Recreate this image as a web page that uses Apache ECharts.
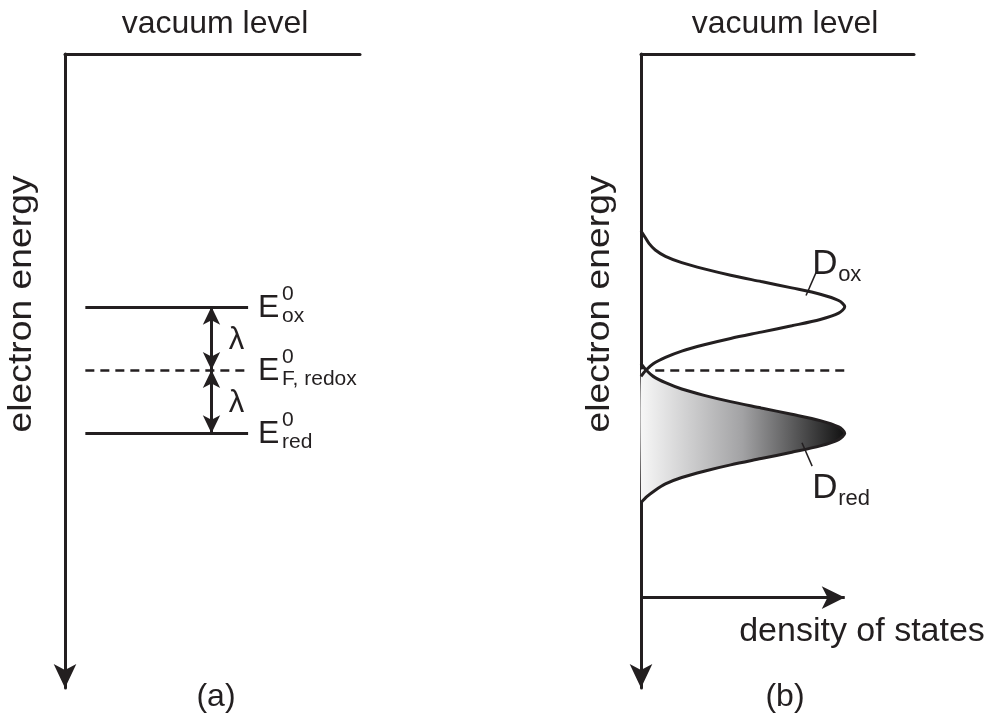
<!DOCTYPE html>
<html>
<head>
<meta charset="utf-8">
<script src="https://cdn.jsdelivr.net/npm/echarts@6/dist/echarts.min.js"></script>
<style>
html,body{margin:0;padding:0;background:#fff;}
#chart{width:986px;height:720px;}
</style>
</head>
<body>
<div id="chart"></div>
<script>
// ---------- data ----------
const levelEnergies = [4, 5, 6];                 // E0_ox, E0_F,redox, E0_red (electron energy, arbitrary units, downward)
const levelSubscripts = ['ox', 'F, redox', 'red'];
const levelDashed = [false, true, false];
const lambdaLabels = ['λ', 'λ'];

const doxEnergy  = [2.80, 2.90, 3.00, 3.10, 3.20, 3.30, 3.40, 3.50, 3.60, 3.70, 3.80, 3.90, 4.00, 4.10, 4.20, 4.30, 4.40, 4.50, 4.60, 4.70, 4.80, 4.90, 5.00, 5.10];
const doxDensity = [0.00, 0.02, 0.04, 0.07, 0.12, 0.20, 0.31, 0.44, 0.59, 0.74, 0.88, 0.97, 1.00, 0.97, 0.88, 0.74, 0.59, 0.44, 0.31, 0.20, 0.12, 0.06, 0.025, 0.00];

const dredEnergy  = [4.90, 5.00, 5.10, 5.20, 5.30, 5.40, 5.50, 5.60, 5.70, 5.80, 5.90, 6.00, 6.10, 6.20, 6.30, 6.40, 6.50, 6.60, 6.70, 6.80, 6.90, 7.00, 7.10];
const dredDensity = [0.00, 0.025, 0.06, 0.12, 0.20, 0.31, 0.44, 0.59, 0.74, 0.88, 0.97, 1.00, 0.97, 0.88, 0.74, 0.59, 0.44, 0.31, 0.20, 0.12, 0.07, 0.03, 0.00];

const texts = {
  vacuum: 'vacuum level',
  energy: 'electron energy',
  dos: 'density of states',
  panelA: '(a)',
  panelB: '(b)'
};

// ---------- style ----------
const INK = '#231f20';
const FONT = 'Liberation Sans, Arial, Helvetica, sans-serif';
const yMax = 10.03;

const chart = echarts.init(document.getElementById('chart'), null, {renderer: 'canvas'});

function yAxisCfg(gi) {
  return {
    gridIndex: gi, type: 'value', inverse: true, min: 0, max: yMax,
    axisLine: {show: true, onZero: false, lineStyle: {color: INK, width: 3}, symbol: ['arrow', 'none'], symbolSize: [17, 24]},
    axisTick: {show: false}, axisLabel: {show: false}, splitLine: {show: false}
  };
}
function xAxisCfg(gi, max) {
  return {
    gridIndex: gi, type: 'value', position: 'top', min: 0, max: max,
    axisLine: {show: true, onZero: false, lineStyle: {color: INK, width: 3}},
    axisTick: {show: false}, axisLabel: {show: false}, splitLine: {show: false}
  };
}

const xA = 0.72; // x position of lambda arrows (panel a)
const levelLines = levelEnergies.map((e, i) => [
  {coord: [0.10, e], lineStyle: {type: levelDashed[i] ? [9, 6] : 'solid', width: levelDashed[i] ? 2.5 : 3}},
  {coord: [0.90, e]}
]);
const lambdaArrows = [];
for (let i = 0; i < levelEnergies.length - 1; i++) {
  lambdaArrows.push([{coord: [xA, levelEnergies[i]]}, {coord: [xA, levelEnergies[i + 1]]}]);
}

const labelItems = levelEnergies.map((e, i) => [0.90, e, i]);
const lambdaItems = lambdaArrows.map((a, i) => [xA, (levelEnergies[i] + levelEnergies[i + 1]) / 2, i]);

const dredFillPts = dredEnergy.map((e, i) => [dredDensity[i], e]).filter(p => p[1] >= 5.0);

const option = {
  animation: false,
  backgroundColor: '#ffffff',
  grid: [
    {left: 65, top: 54, width: 295, height: 634},
    {left: 641, top: 54, width: 273, height: 634}
  ],
  xAxis: [xAxisCfg(0, 1.45), xAxisCfg(1, 1.34)],
  yAxis: [yAxisCfg(0), yAxisCfg(1)],
  series: [
    // panel (a): energy levels and lambda arrows
    {
      type: 'line', xAxisIndex: 0, yAxisIndex: 0, data: [], silent: true,
      markLine: {
        silent: true, symbol: ['none', 'none'], label: {show: false},
        lineStyle: {color: INK, width: 3, type: 'solid'},
        emphasis: {disabled: true},
        data: levelLines
      }
    },
    {
      type: 'line', xAxisIndex: 0, yAxisIndex: 0, data: [], silent: true,
      markLine: {
        silent: true, symbol: ['arrow', 'arrow'], symbolSize: [13, 18], label: {show: false},
        lineStyle: {color: INK, width: 3, type: 'solid'},
        emphasis: {disabled: true},
        data: lambdaArrows
      }
    },
    {
      type: 'custom', xAxisIndex: 0, yAxisIndex: 0, silent: true,
      data: labelItems,
      renderItem: function (params, api) {
        const p = api.coord([api.value(0), api.value(1)]);
        const i = api.value(2);
        return {type: 'group', children: [
          {type: 'text', x: p[0] + 10, y: p[1] + 1, style: {text: 'E', font: '32px ' + FONT, fill: INK, verticalAlign: 'middle', align: 'left'}},
          {type: 'text', x: p[0] + 34, y: p[1] - 13, style: {text: '0', font: '21px ' + FONT, fill: INK, verticalAlign: 'middle', align: 'left'}},
          {type: 'text', x: p[0] + 34, y: p[1] + 9, style: {text: levelSubscripts[i], font: '21px ' + FONT, fill: INK, verticalAlign: 'middle', align: 'left'}}
        ]};
      }
    },
    {
      type: 'custom', xAxisIndex: 0, yAxisIndex: 0, silent: true,
      data: lambdaItems,
      renderItem: function (params, api) {
        const p = api.coord([api.value(0), api.value(1)]);
        return {type: 'text', x: p[0] + 25, y: p[1] + 2, style: {text: lambdaLabels[api.value(2)], font: '31px ' + FONT, fill: INK, verticalAlign: 'middle', align: 'center'}};
      }
    },
    // panel (b): filled D_red
    {
      type: 'custom', xAxisIndex: 1, yAxisIndex: 1, silent: true, z: 1,
      data: [[0, 0]],
      renderItem: function (params, api) {
        const pts = dredFillPts.map(p => api.coord(p));
        pts.push(api.coord([0, dredFillPts[dredFillPts.length - 1][1]]));
        pts.push(api.coord([0, dredFillPts[0][1]]));
        return {
          type: 'polygon', shape: {points: pts, smooth: 0.3},
          style: {fill: new echarts.graphic.LinearGradient(0, 0, 1, 0, [
            {offset: 0, color: '#f7f7f7'},
            {offset: 0.5, color: '#a2a2a4'},
            {offset: 1, color: '#111111'}
          ])}
        };
      }
    },
    {
      name: 'D_ox', type: 'line', xAxisIndex: 1, yAxisIndex: 1, silent: true, z: 3,
      data: doxEnergy.map((e, i) => [doxDensity[i], e]),
      smooth: 0.3, symbol: 'none', lineStyle: {color: INK, width: 3}
    },
    {
      name: 'D_red', type: 'line', xAxisIndex: 1, yAxisIndex: 1, silent: true, z: 3,
      data: dredEnergy.map((e, i) => [dredDensity[i], e]),
      smooth: 0.3, symbol: 'none', lineStyle: {color: INK, width: 3}
    },
    {
      type: 'line', xAxisIndex: 1, yAxisIndex: 1, data: [], silent: true, z: 4,
      markLine: {
        silent: true, label: {show: false}, emphasis: {disabled: true},
        symbol: ['none', 'none'],
        data: [
          [{coord: [0.07, 5], lineStyle: {color: INK, width: 2.5, type: [9, 6]}}, {coord: [1.02, 5]}],
          [{coord: [0.86, 3.45], lineStyle: {color: INK, width: 1.5, type: 'solid'}}, {coord: [0.81, 3.82]}],
          [{coord: [0.79, 6.15], lineStyle: {color: INK, width: 1.5, type: 'solid'}}, {coord: [0.84, 6.52]}]
        ]
      }
    },
    {
      type: 'line', xAxisIndex: 1, yAxisIndex: 1, data: [], silent: true, z: 4,
      markLine: {
        silent: true, label: {show: false}, emphasis: {disabled: true},
        symbol: ['none', 'arrow'], symbolSize: [17, 23],
        lineStyle: {color: INK, width: 3, type: 'solid'},
        data: [[{coord: [0, 8.6]}, {coord: [1.0, 8.6]}]]
      }
    },
    {
      type: 'custom', xAxisIndex: 1, yAxisIndex: 1, silent: true, z: 5,
      data: [[0.84, 3.32, 0], [0.84, 6.87, 1]],
      renderItem: function (params, api) {
        const p = api.coord([api.value(0), api.value(1)]);
        const sub = api.value(2) === 0 ? 'ox' : 'red';
        return {type: 'group', children: [
          {type: 'text', x: p[0], y: p[1], style: {text: 'D', font: '35px ' + FONT, fill: INK, verticalAlign: 'middle', align: 'left'}},
          {type: 'text', x: p[0] + 26, y: p[1] + 11, style: {text: sub, font: '22px ' + FONT, fill: INK, verticalAlign: 'middle', align: 'left'}}
        ]};
      }
    }
  ],
  graphic: [
    {type: 'text', x: 215, y: 24, style: {text: texts.vacuum, font: '32px ' + FONT, fill: INK, align: 'center', verticalAlign: 'middle'}},
    {type: 'text', x: 785, y: 24, style: {text: texts.vacuum, font: '32px ' + FONT, fill: INK, align: 'center', verticalAlign: 'middle'}},
    {type: 'text', x: 22, y: 304, rotation: Math.PI / 2, scaleX: 1.13, style: {text: texts.energy, font: '33px ' + FONT, fill: INK, align: 'center', verticalAlign: 'middle'}},
    {type: 'text', x: 600, y: 304, rotation: Math.PI / 2, scaleX: 1.13, style: {text: texts.energy, font: '33px ' + FONT, fill: INK, align: 'center', verticalAlign: 'middle'}},
    {type: 'text', x: 862, y: 632, style: {text: texts.dos, font: '34px ' + FONT, fill: INK, align: 'center', verticalAlign: 'middle'}},
    {type: 'text', x: 216, y: 697, style: {text: texts.panelA, font: '32px ' + FONT, fill: INK, align: 'center', verticalAlign: 'middle'}},
    {type: 'text', x: 785, y: 697, style: {text: texts.panelB, font: '32px ' + FONT, fill: INK, align: 'center', verticalAlign: 'middle'}}
  ]
};
chart.setOption(option);
</script>
</body>
</html>
